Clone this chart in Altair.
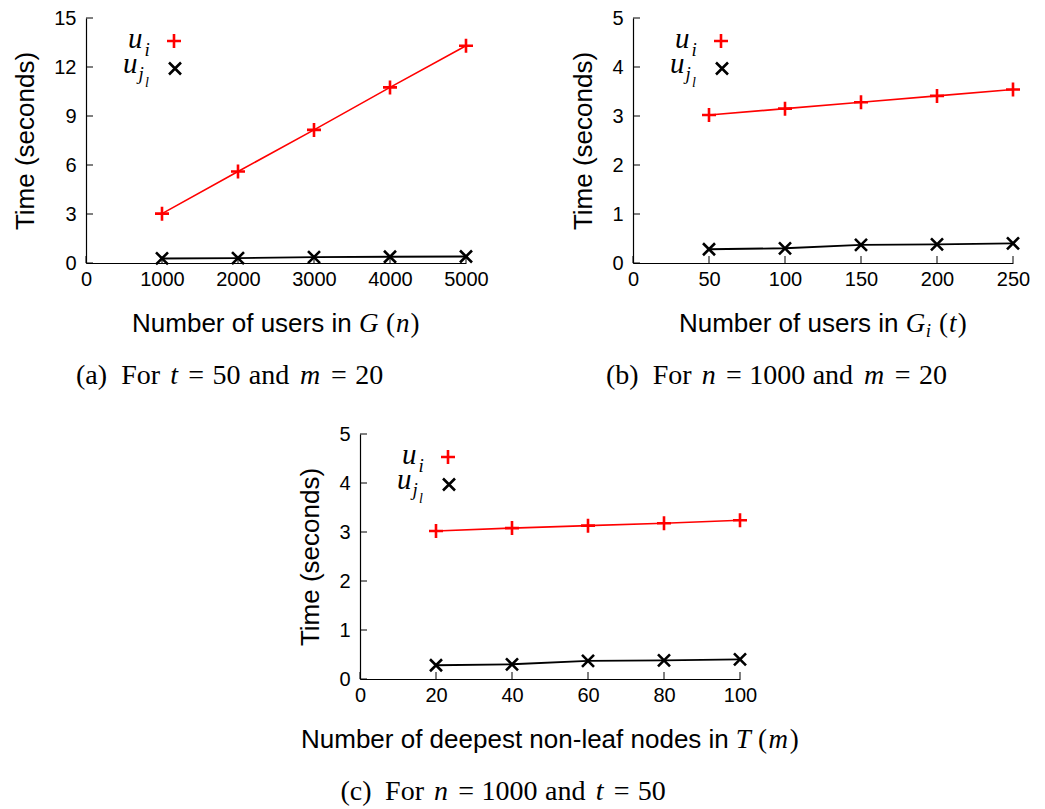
import altair as alt
import pandas as pd

# ---------------- data ----------------
a_n = [1000, 2000, 3000, 4000, 5000]
a_ui = [3.02, 5.60, 8.15, 10.75, 13.30]
a_ujl = [0.28, 0.30, 0.36, 0.38, 0.40]

b_t = [50, 100, 150, 200, 250]
b_ui = [3.02, 3.15, 3.28, 3.41, 3.54]
b_ujl = [0.28, 0.30, 0.37, 0.38, 0.40]

c_m = [20, 40, 60, 80, 100]
c_ui = [3.02, 3.08, 3.13, 3.18, 3.24]
c_ujl = [0.28, 0.30, 0.37, 0.38, 0.40]

a_xticks = [0, 1000, 2000, 3000, 4000, 5000]
a_yticks = [0, 3, 6, 9, 12, 15]
b_xticks = [0, 50, 100, 150, 200, 250]
b_yticks = [0, 1, 2, 3, 4, 5]
c_xticks = [0, 20, 40, 60, 80, 100]
c_yticks = [0, 1, 2, 3, 4, 5]

# ---------------- layout / style ----------------
W, H = 380, 245
PLUS = "M-1,0L1,0M0,-1L0,1"
CROSS = "M-1,-1L1,1M-1,1L1,-1"
RED = "#ff0000"
SANS = "Liberation Sans"
SERIF = "Liberation Serif"

ARIAL = {' ': .278, 'N': .722, 'u': .556, 'm': .833, 'b': .556, 'e': .556, 'r': .333,
         'o': .556, 'f': .278, 's': .5, 'i': .222, 'n': .556, 'd': .556, 'p': .556,
         't': .278, '-': .333, 'l': .222, 'a': .556, 'c': .5, 'T': .611}
CM_RM = {'(': .389, ')': .389, 'a': .5, 'b': .556, 'c': .444, 'd': .556, 'F': .653,
         'o': .5, 'r': .392, 'n': .556, '=': .778}
CM_IT = {'t': .361, 'm': .878, 'n': .6, 'G': .786, 'T': .584, 'i': .345, 'u': .572,
         'j': .412, 'l': .298}
TM_RM = {'(': .333, ')': .333, 'a': .444, 'b': .5, 'c': .444, 'd': .5, 'F': .556,
         'o': .5, 'r': .333, 'n': .5, '=': .564}
TM_IT = {'t': .278, 'm': .722, 'n': .5, 'G': .722, 'T': .556, 'i': .278, 'u': .5,
         'j': .278, 'l': .278}
for d in '0123456789':
    CM_RM[d] = .5
    TM_RM[d] = .5

SLOT = {"sans": ARIAL, "rm": CM_RM, "it": CM_IT}
REND = {"sans": ARIAL, "rm": TM_RM, "it": TM_IT}
FONT = {"sans": (SANS, "normal"), "rm": (SERIF, "normal"), "it": (SERIF, "italic")}

one = pd.DataFrame({"k": [0]})


def w(text, kind, size, table=SLOT):
    return sum(table[kind][ch] for ch in text) * size


def place(parts, x0, y0, center=False):
    total = 0
    for p in parts:
        total += p[1] if p[0] == "gap" else w(p[0], p[1], p[2])
    x = x0 - total / 2 if center else x0
    out = []
    for p in parts:
        if p[0] == "gap":
            x += p[1]
            continue
        text, kind, size, dy = p[:4]
        rsize = p[4] if len(p) > 4 else size
        slot = w(text, kind, size)
        rend = w(text, kind, rsize, REND)
        out.append((text, kind, rsize, x + (slot - rend) / 2, y0 + dy))
        x += slot
    return out


def text_layers(items):
    layers = []
    for text, kind, size, x, y in items:
        font, style = FONT[kind]
        layers.append(
            alt.Chart(one).mark_text(text=text, font=font, fontStyle=style, fontSize=size,
                                     align="left", baseline="alphabetic", color="black")
            .encode(x=alt.value(x), y=alt.value(y))
        )
    return layers


def caption(letter, v1, n1, v2, n2):
    g, th, q, s, r = ("gap", 8.7), ("gap", 7.2), ("gap", 12.5), 26, 28
    return [("(" + letter + ")", "rm", s, 0, r), q, ("For", "rm", s, 0, r), g,
            (v1, "it", s, 0, r), th, ("=", "rm", s, 0, r), th, (n1, "rm", s, 0, r), g,
            ("and", "rm", s, 0, r), g, (v2, "it", s, 0, r), th, ("=", "rm", s, 0, r), th,
            (n2, "rm", s, 0, r)]


def panel(xs, ui, ujl, xticks, yticks, title_parts, cap_parts):
    df = pd.DataFrame({"x": xs + xs, "v": ui + ujl,
                       "s": ["ui"] * len(xs) + ["ujl"] * len(xs)})
    xsc = alt.Scale(domain=[xticks[0], xticks[-1]], nice=False, zero=False)
    ysc = alt.Scale(domain=[yticks[0], yticks[-1]], nice=False, zero=False)
    X = alt.X("x:Q", scale=xsc,
              axis=alt.Axis(values=xticks, title=None, labelPadding=6, format="d",
                            labelFlush=False, labelOverlap=False))
    Y = alt.Y("v:Q", scale=ysc,
              axis=alt.Axis(values=yticks, title="Time (seconds)", labelPadding=10,
                            titlePadding=15, format="d", labelFlush=False,
                            labelOverlap=False))
    base = alt.Chart(df)
    red = base.transform_filter("datum.s == 'ui'")
    blk = base.transform_filter("datum.s == 'ujl'")
    layers = [
        alt.Chart(pd.DataFrame({"v": yticks})).mark_rule(color="black", strokeWidth=1)
        .encode(y=Y, x=alt.value(0), x2=alt.value(7)),
        alt.Chart(pd.DataFrame({"x": xticks})).mark_rule(color="black", strokeWidth=1)
        .encode(x=X, y=alt.value(H), y2=alt.value(H - 7)),
        blk.mark_line(color="black", strokeWidth=1.9).encode(x=X, y=Y),
        red.mark_line(color=RED, strokeWidth=1.6).encode(x=X, y=Y),
        blk.mark_point(shape=CROSS, filled=False, color="black", strokeWidth=2.6,
                       size=144, opacity=1).encode(x=X, y=Y),
        red.mark_point(shape=PLUS, filled=False, color=RED, strokeWidth=2.6,
                       size=196, opacity=1).encode(x=X, y=Y),
        # legend symbols
        alt.Chart(one).mark_point(shape=PLUS, filled=False, color=RED, strokeWidth=2.6,
                                  size=196, opacity=1).encode(x=alt.value(88), y=alt.value(23)),
        alt.Chart(one).mark_point(shape=CROSS, filled=False, color="black", strokeWidth=2.6,
                                  size=144, opacity=1).encode(x=alt.value(89), y=alt.value(50.5)),
    ]
    legend_items = [("u", "it", 29, 42, 29.7), ("i", "it", 19, 58.5, 37.5),
                    ("u", "it", 29, 37, 54.7), ("j", "it", 19, 52.5, 62),
                    ("l", "it", 14, 59, 69)]
    layers += text_layers(legend_items)
    layers += text_layers(place(title_parts, W / 2, 314, center=True))
    layers += text_layers(place(cap_parts, 142.5, 366, center=True))
    return alt.layer(*layers).properties(width=W, height=H)


sans_users = "Number of users in "
title_a = [(sans_users, "sans", 26, 0), ("G", "it", 25, 0, 27), ("gap", 7),
           ("(", "rm", 25, 0, 27), ("n", "it", 25, 0, 27), (")", "rm", 25, 0, 27)]
title_b = [(sans_users, "sans", 26, 0), ("G", "it", 25, 0, 27), ("i", "it", 18, 5, 19),
           ("gap", 7), ("(", "rm", 25, 0, 27), ("t", "it", 25, 0, 27), (")", "rm", 25, 0, 27)]
title_c = [("Number of deepest non-leaf nodes in ", "sans", 26, 0), ("T", "it", 25, 0, 27),
           ("gap", 7), ("(", "rm", 25, 0, 27), ("m", "it", 25, 0, 27), (")", "rm", 25, 0, 27)]

pa = panel(a_n, a_ui, a_ujl, a_xticks, a_yticks, title_a, caption("a", "t", "50", "m", "20"))
pb = panel(b_t, b_ui, b_ujl, b_xticks, b_yticks, title_b, caption("b", "n", "1000", "m", "20"))
pc = panel(c_m, c_ui, c_ujl, c_xticks, c_yticks, title_c, caption("c", "n", "1000", "t", "50"))

ghost = alt.Chart(one).mark_point(opacity=0).encode(
    x=alt.X("k:Q", axis=None), y=alt.Y("k:Q", axis=None)
).properties(width=50, height=H)

row1 = alt.hconcat(pa, pb, spacing=167, bounds="flush")
row2 = alt.hconcat(ghost, pc, spacing=224, bounds="flush")

chart = (
    alt.vconcat(row1, row2, spacing=34)
    .properties(padding={"left": 4, "top": 0, "right": 2, "bottom": 2})
    .configure_view(stroke=None)
    .configure_axis(labelFont=SANS, labelFontSize=20, labelColor="black",
                    titleFont=SANS, titleFontSize=26, titleFontWeight="normal",
                    titleColor="black", domainColor="black", domainWidth=1.2,
                    grid=False, ticks=False, tickSize=0)
)

chart.save("out.html", embed_options={"renderer": "svg", "actions": False})
